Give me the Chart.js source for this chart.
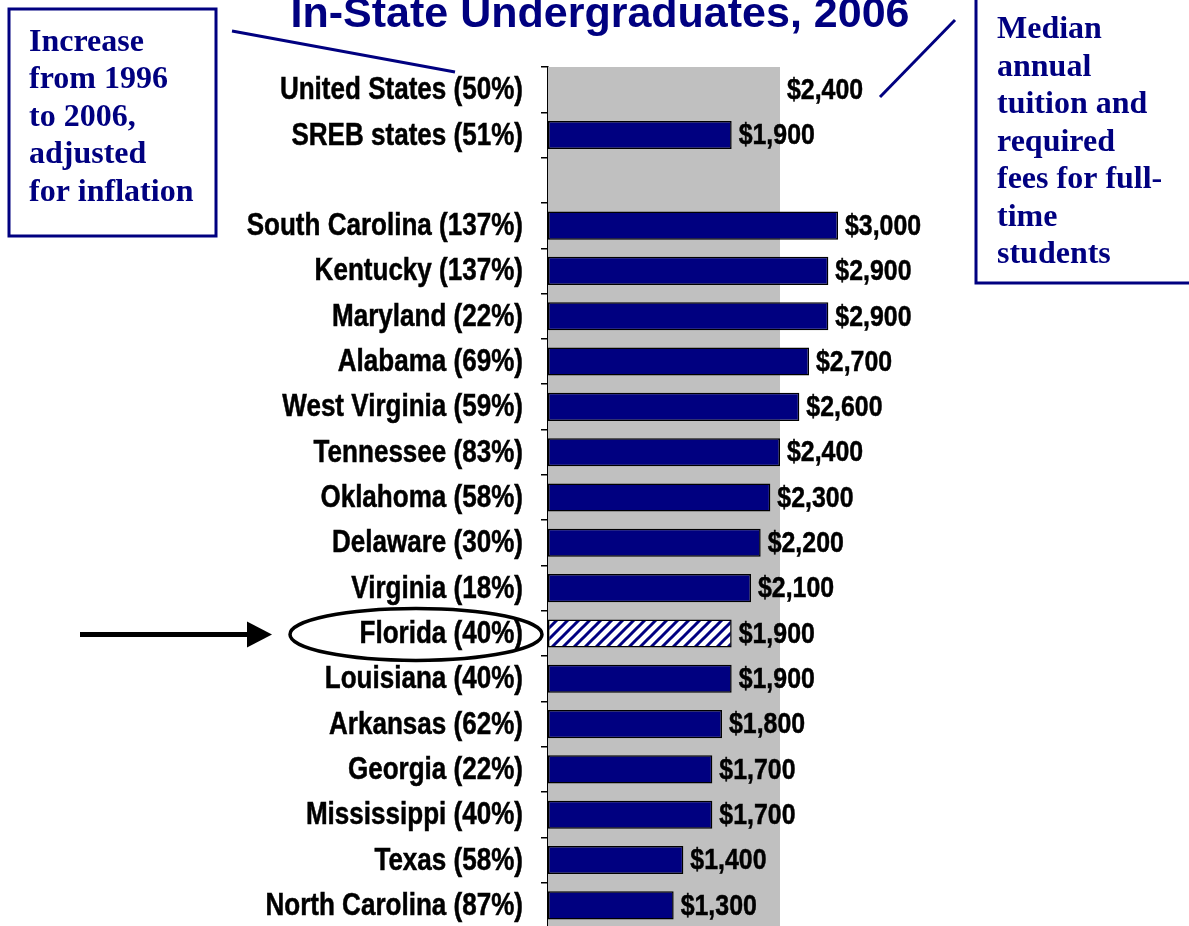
<!DOCTYPE html>
<html>
<head>
<meta charset="utf-8">
<script src="https://cdn.jsdelivr.net/npm/chart.js@4.4.1/dist/chart.umd.min.js"></script>
<style>
    html, body { margin: 0; padding: 0; background: #fff; overflow: hidden; }
    canvas { display: block; }
</style>
</head>
<body>
<canvas id="tuition-chart" width="1189" height="930"></canvas>
<script>
const states = ["United States", "SREB states", "", "South Carolina", "Kentucky", "Maryland", "Alabama",
    "West Virginia", "Tennessee", "Oklahoma", "Delaware", "Virginia", "Florida", "Louisiana",
    "Arkansas", "Georgia", "Mississippi", "Texas", "North Carolina"];
const increase = [50, 51, null, 137, 137, 22, 69, 59, 83, 58, 30, 18, 40, 40, 62, 22, 40, 58, 87];
const tuition = [2400, 1900, null, 3000, 2900, 2900, 2700, 2600, 2400, 2300, 2200, 2100, 1900, 1900,
    1800, 1700, 1700, 1400, 1300];
const highlight = "Florida";

const NAVY = "#000080";
const SANS = "Arial, 'Liberation Sans', sans-serif";
const SERIF = "'Times New Roman', 'Liberation Serif', serif";

const labels = states.map((s, i) => (increase[i] == null ? "" : s + " (" + increase[i] + "%)"));

// hatched fill for the highlighted state
function makeHatch() {
    const c = document.createElement("canvas");
    c.width = 11;
    c.height = 11;
    const g = c.getContext("2d");
    g.fillStyle = "#fff";
    g.fillRect(0, 0, 11, 11);
    g.strokeStyle = NAVY;
    g.lineWidth = 3;
    g.beginPath();
    g.moveTo(-2, 13); g.lineTo(13, -2);
    g.moveTo(-7, 7); g.lineTo(7, -7);
    g.moveTo(4, 18); g.lineTo(18, 4);
    g.stroke();
    return g.createPattern(c, "repeat");
}
const hatch = makeHatch();

const barColors = states.map((s, i) => (i === 0 ? "rgba(0,0,0,0)" : s === highlight ? hatch : NAVY));
const borderColors = states.map((s, i) => (i === 0 ? "rgba(0,0,0,0)" : "#000"));

// narrow heavy text (Arial Narrow look) by squeezing Arial bold
function narrowText(ctx, text, x, y, size, squeeze, align) {
    ctx.save();
    ctx.translate(x, y);
    ctx.scale(squeeze, 1);
    ctx.font = "bold " + size + "px " + SANS;
    ctx.textAlign = align;
    ctx.textBaseline = "middle";
    ctx.lineWidth = 0.5;
    ctx.strokeStyle = ctx.fillStyle;
    ctx.fillText(text, 0, 0);
    ctx.strokeText(text, 0, 0);
    ctx.restore();
}

// gray band = U.S. median, drawn through the x scale
const usBand = {
    id: "usBand",
    beforeDatasetsDraw(chart) {
        const { ctx, chartArea, scales } = chart;
        const x0 = scales.x.getPixelForValue(0);
        const x1 = scales.x.getPixelForValue(tuition[0]);
        ctx.save();
        ctx.fillStyle = "#C0C0C0";
        ctx.fillRect(x0, chartArea.top, x1 - x0, chartArea.bottom - chartArea.top);
        ctx.restore();
    },
};

const textLabels = {
    id: "textLabels",
    afterDatasetsDraw(chart) {
        const { ctx, scales } = chart;
        const meta = chart.getDatasetMeta(0);
        ctx.save();
        ctx.fillStyle = "#000";
        labels.forEach((lab, i) => {
            if (!lab) return;
            narrowText(ctx, lab, scales.y.right - 25, scales.y.getPixelForValue(i) + 1, 31, 0.84, "right");
        });
        meta.data.forEach((bar, i) => {
            if (tuition[i] == null) return;
            narrowText(ctx, "$" + tuition[i].toLocaleString("en-US"), bar.x + 7, bar.y + 1, 30, 0.83, "left");
        });
        ctx.restore();
    },
};

const notes = {
    id: "notes",
    afterDraw(chart) {
        const { ctx, scales } = chart;
        ctx.save();
        // title (top line cut off in the original)
        ctx.fillStyle = NAVY;
        ctx.font = "bold 43px " + SANS;
        ctx.textAlign = "center";
        ctx.textBaseline = "alphabetic";
        ctx.fillText("In-State Undergraduates, 2006", 600, 27);

        // left note box
        ctx.strokeStyle = NAVY;
        ctx.lineWidth = 3;
        ctx.strokeRect(9, 9, 207, 227);
        ctx.font = "bold 32px " + SERIF;
        ctx.textAlign = "left";
        ["Increase", "from 1996", "to 2006,", "adjusted", "for inflation"].forEach((t, i) => {
            ctx.fillText(t, 29, 51 + i * 37.4);
        });
        ctx.beginPath();
        ctx.moveTo(232, 31);
        ctx.lineTo(455, 72);
        ctx.stroke();

        // right note box
        ctx.beginPath();
        ctx.moveTo(976, -5);
        ctx.lineTo(976, 283);
        ctx.lineTo(1195, 283);
        ctx.stroke();
        ["Median", "annual", "tuition and", "required", "fees for full-", "time", "students"].forEach((t, i) => {
            ctx.fillText(t, 997, 38 + i * 37.5);
        });
        ctx.beginPath();
        ctx.moveTo(955, 20);
        ctx.lineTo(880, 97);
        ctx.stroke();

        // arrow + ellipse on the highlighted state
        const fy = scales.y.getPixelForValue(states.indexOf(highlight));
        ctx.strokeStyle = "#000";
        ctx.fillStyle = "#000";
        ctx.lineWidth = 3.5;
        ctx.beginPath();
        ctx.ellipse(416, fy + 1, 126, 26, 0, 0, Math.PI * 2);
        ctx.stroke();
        ctx.lineWidth = 5;
        ctx.beginPath();
        ctx.moveTo(80, fy + 1);
        ctx.lineTo(252, fy + 1);
        ctx.stroke();
        ctx.beginPath();
        ctx.moveTo(272, fy + 1);
        ctx.lineTo(247, fy - 12);
        ctx.lineTo(247, fy + 14);
        ctx.closePath();
        ctx.fill();
        ctx.restore();
    },
};

const ctx = document.getElementById("tuition-chart");

new Chart(ctx, {
    type: "bar",
    data: {
        labels: labels,
        datasets: [
            {
                label: "Tuition",
                data: tuition,
                backgroundColor: barColors,
                borderColor: borderColors,
                borderWidth: 1.5,
                borderSkipped: false,
                categoryPercentage: 0.62,
                barPercentage: 1,
            },
        ],
    },
    plugins: [usBand, textLabels, notes],
    options: {
        indexAxis: "y",
        responsive: false,
        animation: false,
        layout: {
            padding: { top: 67, bottom: 2, left: 0, right: 61 },
        },
        scales: {
            x: {
                display: false,
                min: 0,
                max: 6000,
            },
            y: {
                afterFit(scale) {
                    scale.width = 548;
                },
                border: {
                    display: true,
                    color: "#000",
                    width: 1.5,
                },
                grid: {
                    display: true,
                    drawOnChartArea: false,
                    drawTicks: true,
                    tickLength: 7,
                    color: "#000",
                    lineWidth: 1.5,
                },
                ticks: {
                    display: false,
                },
            },
        },
        plugins: {
            legend: { display: false },
            tooltip: { enabled: false },
        },
    },
});
</script>
</body>
</html>
